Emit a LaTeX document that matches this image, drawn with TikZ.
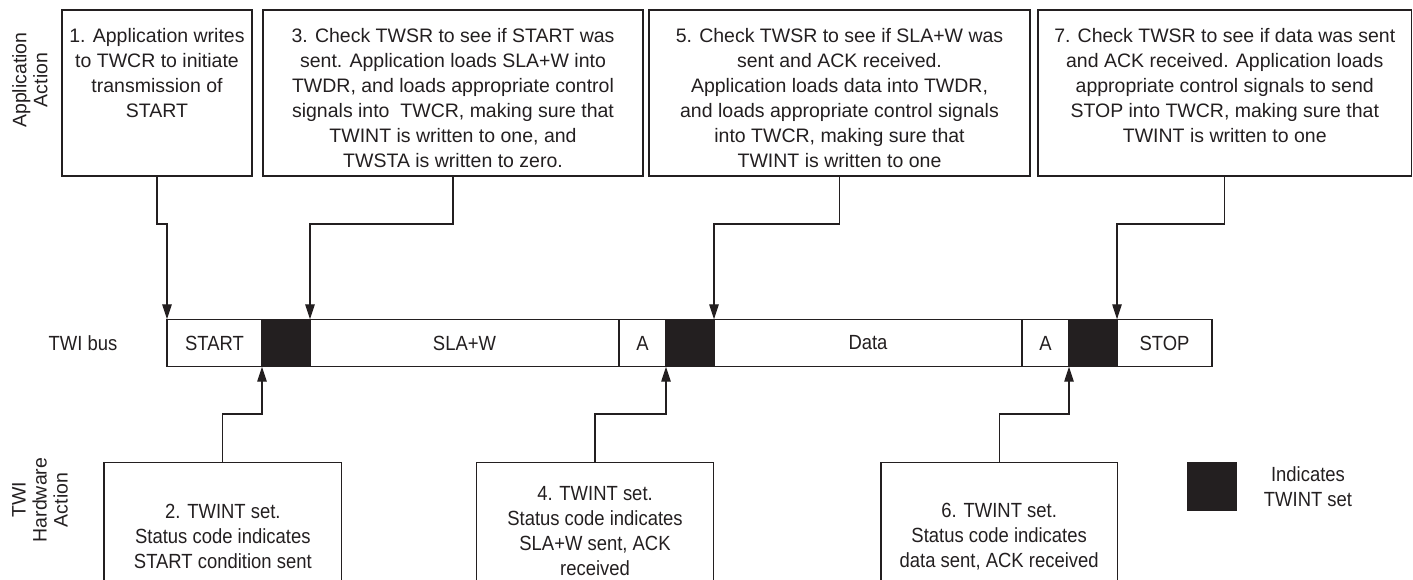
\documentclass[tikz,border=0pt]{standalone}
\usepackage{fontspec}
\setmainfont{Liberation Sans}
\newfontfamily\narrowfont{Liberation Sans}[FakeStretch=0.9]
\usetikzlibrary{arrows.meta}
\definecolor{ink}{HTML}{231F20}
\begin{document}
\begin{tikzpicture}[x=1pt,y=-1pt,
  box/.style={draw=ink, line width=1.1pt, inner sep=0pt, outer sep=0pt},
  toptext/.style={align=center, inner sep=0pt, anchor=north, text=ink,
    font=\fontsize{19.5}{25}\selectfont},
  botbox/.style={box, minimum height=147pt, align=center, text=ink,
    font=\narrowfont\fontsize{20.5}{25}\selectfont},
  seg/.style={draw=ink, line width=1.1pt, minimum height=47.4pt, inner sep=0pt,
    outer sep=0pt, text=ink, font=\narrowfont\fontsize{20.5}{25}\selectfont},
  twint/.style={seg, fill=ink},
  sidelbl/.style={rotate=90, align=center, inner sep=0pt, text=ink,
    font=\fontsize{19.5}{21}\selectfont},
  arr/.style={draw=ink, line width=1.1pt, -{Triangle[length=15pt,width=9.5pt]}},
]
\useasboundingbox (0,0) rectangle (1413,579);
\clip (0,0) rectangle (1413,579);

% side labels
\node[sidelbl] (applbl) at (30,80) {Application\\Action};
\node[sidelbl] (hwlbl) at (40,500) {TWI\\Hardware\\Action};

% top boxes
\node[box, minimum width=190pt, minimum height=166pt] (b1) at (157,93) {};
\node[box, minimum width=380pt, minimum height=166pt] (b3) at (453,93) {};
\node[box, minimum width=381pt, minimum height=166pt] (b5) at (839.5,93) {};
\node[box, minimum width=373.5pt, minimum height=166pt] (b7) at (1224.75,93) {};

\node[toptext] (t1) at (157,28) {1. Application writes\\to TWCR to initiate\\transmission of\\START};
\node[toptext] (t3) at (453,28) {3. Check TWSR to see if START was\\sent. Application loads SLA+W into\\TWDR, and loads appropriate control\\signals into\ \ TWCR, making sure that\\TWINT is written to one, and\\TWSTA is written to zero.};
\node[toptext] (t5) at (839.5,28) {5. Check TWSR to see if SLA+W was\\sent and ACK received.\\Application loads data into TWDR,\\and loads appropriate control signals\\into TWCR, making sure that\\TWINT is written to one};
\node[toptext] (t7) at (1224.75,28) {7. Check TWSR to see if data was sent\\and ACK received. Application loads\\appropriate control signals to send\\STOP into TWCR, making sure that\\TWINT is written to one};

% bus
\node[text=ink, font=\narrowfont\fontsize{20.5}{25}\selectfont] (buslbl) at (83,343) {TWI bus};
\node[seg, minimum width=95pt] (start) at (214.5,343) {START};
\node[twint, minimum width=48pt] (tw1) at (286,343) {};
\node[seg, minimum width=309pt] (sla) at (464.5,343) {SLA+W};
\node[seg, minimum width=47pt] (a1) at (642.5,343) {A};
\node[twint, minimum width=48pt] (tw2) at (690,343) {};
\node[seg, minimum width=308pt] (data) at (868,343) {Data};
\node[seg, minimum width=47pt] (a2) at (1045.5,343) {A};
\node[twint, minimum width=48pt] (tw3) at (1093,343) {};
\node[seg, minimum width=95pt] (stop) at (1164.5,343) {STOP};

% bottom boxes
\node[botbox, minimum width=237.7pt] (b2) at (222.85,536.2) {2. TWINT set.\\Status code indicates\\START condition sent};
\node[botbox, minimum width=236.6pt, minimum height=137pt] (b4) at (595,531.2) {4. TWINT set.\\Status code indicates\\SLA+W sent, ACK\\received};
\node[botbox, minimum width=236.3pt] (b6) at (999.15,536.2) {6. TWINT set.\\Status code indicates\\data sent, ACK received};

% legend
\node[twint, minimum width=48pt, minimum height=48pt] (legsq) at (1212,486.6) {};
\node[align=center, text=ink, font=\narrowfont\fontsize{20.5}{25}\selectfont] (legtxt) at (1308,487) {Indicates\\TWINT set};

% connectors
\coordinate (tb) at (0,224);
\coordinate (bb) at (0,414);
\draw[arr] (b1.south) -- (b1.south |- tb) -| (start.north west);
\draw[arr] (b3.south) -- (b3.south |- tb) -| (tw1.north east);
\draw[arr] (b5.south) -- (b5.south |- tb) -| (tw2.north east);
\draw[arr] (b7.south) -- (b7.south |- tb) -| (tw3.north east);
\draw[arr] (b2.north) -- (b2.north |- bb) -| (tw1.south west);
\draw[arr] (b4.north) -- (b4.north |- bb) -| (tw2.south west);
\draw[arr] (b6.north) -- (b6.north |- bb) -| (tw3.south west);
\end{tikzpicture}
\end{document}
